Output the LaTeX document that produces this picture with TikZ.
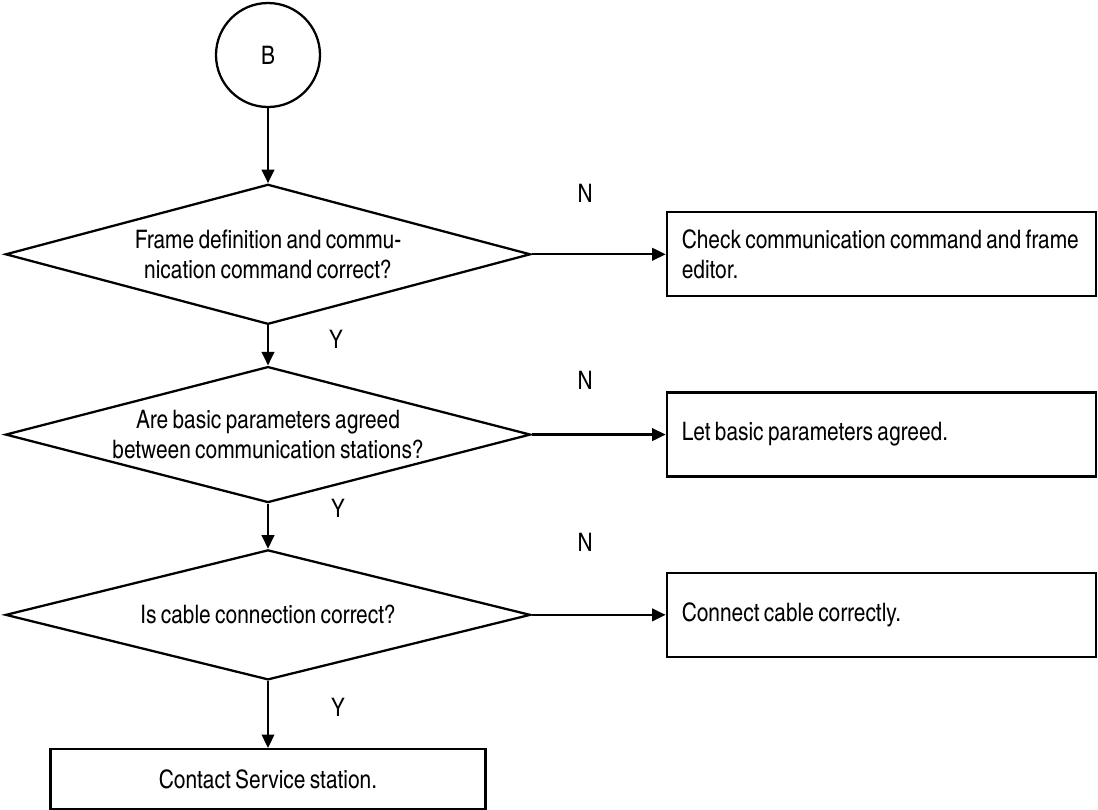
\documentclass[tikz,border=0pt]{standalone}
\usepackage{fontspec}
\setmainfont[WordSpace=0.75]{TeX Gyre Heros Cn}
\usetikzlibrary{shapes.geometric, arrows.meta, positioning}

\begin{document}
\begin{tikzpicture}[
    node distance=0.9cm and 2.68cm,
    every node/.style={font=\fontsize{14.5}{17.5}\selectfont},
    connector/.style={circle, draw, line width=1.3pt, minimum size=2.08cm, inner sep=0pt},
    decision/.style={diamond, draw, line width=1.3pt, aspect=3.76, minimum width=10.5cm, inner sep=0pt, align=center},
    action/.style={rectangle, draw, line width=1.3pt, text width=7.98cm, inner xsep=0.3cm, minimum height=1.68cm, align=flush left},
    arrow/.style={-{Triangle[length=0.27cm, width=0.25cm]}, line width=1.3pt}
]
    \useasboundingbox (0,0) rectangle (21.96,-16.18);

    % Entry point
    \node[connector] (b) at (5.36,-1.10) {B};

    % Checks
    \node[decision, minimum height=2.8cm, below=1.5cm of b] (frame) {Frame definition and commu-\\nication command correct?};
    \node[decision, minimum height=2.72cm, below=0.8cm of frame] (param) {Are basic parameters agreed\\between communication stations?};
    \node[decision, minimum height=2.6cm, below=0.9cm of param] (cable) {Is cable connection correct?};

    % Remedies
    \node[action, right=of frame] (checkcmd) {Check communication command and frame\\editor.};
    \node[action, right=of param] (agree) {Let basic parameters agreed.};
    \node[action, right=of cable] (connect) {Connect cable correctly.};
    \node[action, align=flush center, text width=8.1cm, minimum height=1.2cm, below=1.34cm of cable] (service) {Contact Service station.};

    % Arrows
    \draw[arrow] (b) -- (frame);
    \draw[arrow] (frame) -- node[pos=0.4, yshift=1.22cm] {N} (checkcmd);
    \draw[arrow] (frame) -- node[pos=0.36, xshift=1.36cm] {Y} (param);
    \draw[arrow] (param) -- node[pos=0.4, yshift=1.08cm] {N} (agree);
    \draw[arrow] (param) -- node[pos=0.1, xshift=1.4cm] {Y} (cable);
    \draw[arrow] (cable) -- node[pos=0.4, yshift=1.45cm] {N} (connect);
    \draw[arrow] (cable) -- node[pos=0.4, xshift=1.4cm] {Y} (service);

\end{tikzpicture}
\end{document}
